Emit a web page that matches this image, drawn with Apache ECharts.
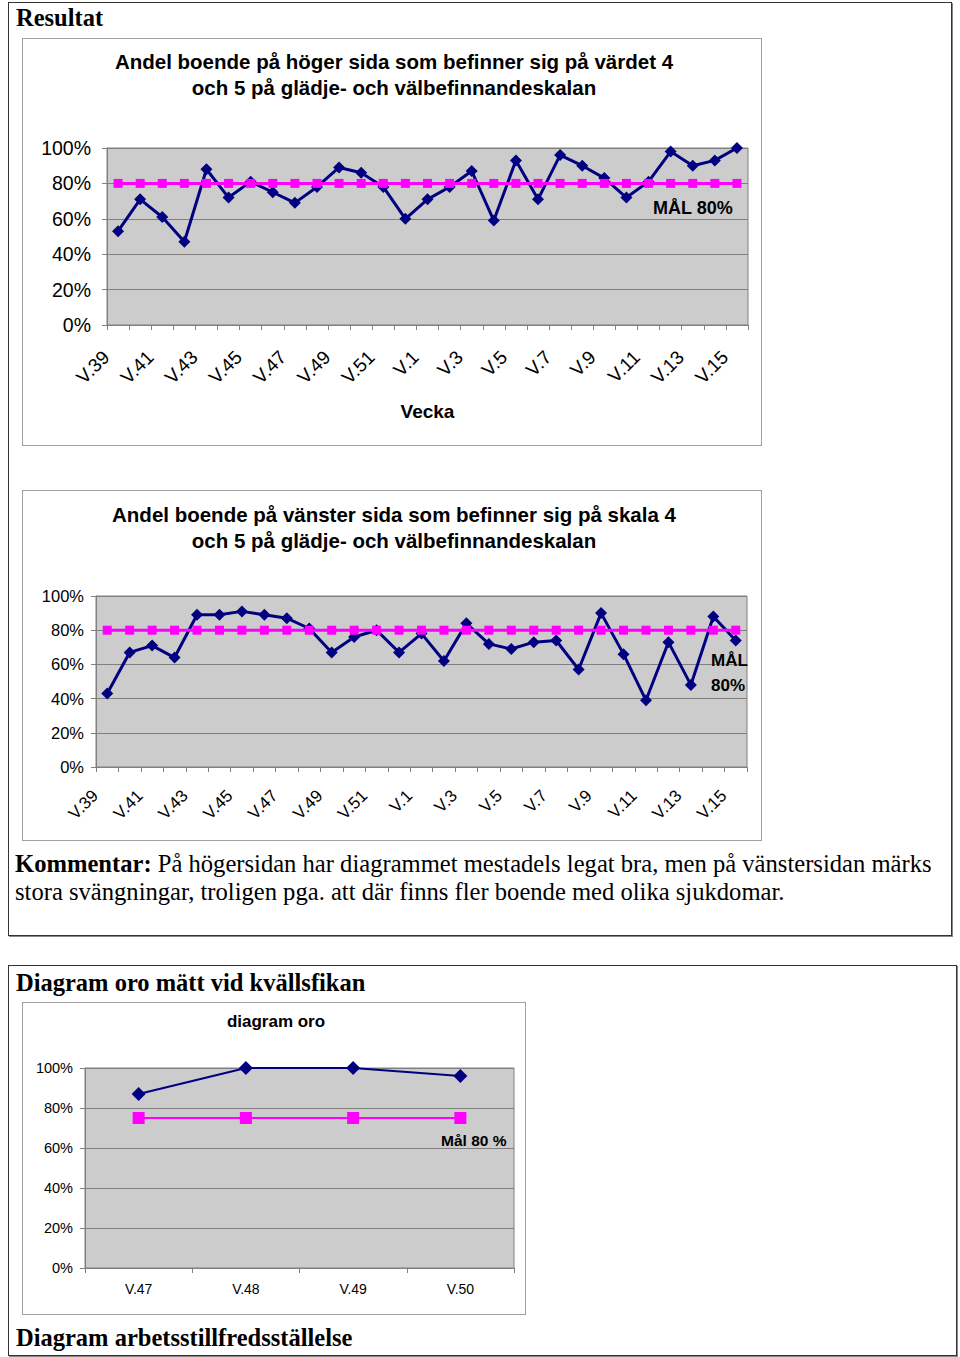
<!DOCTYPE html>
<html>
<head>
<meta charset="utf-8">
<script src="https://cdn.jsdelivr.net/npm/echarts@6/dist/echarts.min.js"></script>
<style>
  html, body { margin: 0; padding: 0; background: #fff; }
  #page { position: relative; width: 960px; height: 1357px; overflow: hidden; }
  .outer { position: absolute; border: 1px solid #333; box-shadow: 1px 1px 0 #888; box-sizing: border-box; }
  .cbox { position: absolute; border: 1px solid #a0a0a0; box-sizing: border-box; }
  .serif { position: absolute; font-family: "Liberation Serif", "Times New Roman", serif; color: #000; white-space: nowrap; }
  #chart { position: absolute; left: 0; top: 0; width: 960px; height: 1357px; }
</style>
</head>
<body>
<div id="page">
  <div class="outer" style="left:8px;top:2px;width:944px;height:934px;"></div>
  <div class="outer" style="left:8px;top:965px;width:949px;height:391px;"></div>
  <div class="cbox" style="left:22px;top:38px;width:740px;height:408px;"></div>
  <div class="cbox" style="left:22px;top:490px;width:740px;height:351px;"></div>
  <div class="cbox" style="left:22px;top:1002px;width:504px;height:313px;"></div>
  <div class="serif" style="left:16px;top:5px;font-size:24.5px;line-height:25px;font-weight:bold;">Resultat</div>
  <div class="serif" style="left:15px;top:850px;font-size:24.6px;line-height:28px;"><b>Kommentar:</b> På högersidan har diagrammet mestadels legat bra, men på vänstersidan märks<br>stora svängningar, troligen pga. att där finns fler boende med olika sjukdomar.</div>
  <div class="serif" style="left:16px;top:970px;font-size:24.5px;line-height:25px;font-weight:bold;">Diagram oro mätt vid kvällsfikan</div>
  <div class="serif" style="left:16px;top:1325px;font-size:24.5px;line-height:25px;font-weight:bold;">Diagram arbetsstillfredsställelse</div>
  <div id="chart"></div>
</div>
<script>
// ---- data ----
const weeks = ['V.39','V.40','V.41','V.42','V.43','V.44','V.45','V.46','V.47','V.48','V.49','V.50','V.51','V.52',
               'V.1','V.2','V.3','V.4','V.5','V.6','V.7','V.8','V.9','V.10','V.11','V.12','V.13','V.14','V.15'];
const hogerSida = [53,71,61,47,88,72,81,75,69,78,89,86,78,60,71,78,87,59,93,71,96,90,83,72,81,98,90,93,100];
const malHoger  = [80,80,80,80,80,80,80,80,80,80,80,80,80,80,80,80,80,80,80,80,80,80,80,80,80,80,80,80,80];
const vansterSida = [43,67,71,64,89,89,91,89,87,81,67,76,80,67,78,62,84,72,69,73,74,57,90,66,39,73,48,88,74];
const malVanster  = [80,80,80,80,80,80,80,80,80,80,80,80,80,80,80,80,80,80,80,80,80,80,80,80,80,80,80,80,80];
const oroWeeks = ['V.47','V.48','V.49','V.50'];
const oro = [87,100,100,96];
const malOro = [75,75,75,75];
const yTicks = { min: 0, max: 100, interval: 20 };

const NAVY = '#000080', MAGENTA = '#FF00FF', PLOT = '#CCCCCC', GRIDC = '#808080';
const SANS = '"Liberation Sans", Arial, sans-serif';

function xAx(gridIndex, data, fs, rotate, margin, interval, padding, extra) {
  return Object.assign({
    gridIndex, type: 'category', data, boundaryGap: true,
    axisLine: { show: true, lineStyle: { color: GRIDC, width: 1 } },
    axisTick: { show: true, inside: false, length: 5, interval: 0, lineStyle: { color: GRIDC } },
    axisLabel: { show: true, interval, rotate, margin, padding, fontSize: fs, color: '#000', fontFamily: SANS },
    splitLine: { show: false }
  }, extra || {});
}
function yAx(gridIndex, fs, margin) {
  return {
    gridIndex, type: 'value', min: yTicks.min, max: yTicks.max, interval: yTicks.interval,
    axisLine: { show: true, lineStyle: { color: GRIDC, width: 1 } },
    axisTick: { show: true, inside: false, length: 5, lineStyle: { color: GRIDC } },
    axisLabel: { formatter: '{value}%', fontSize: fs, color: '#000', fontFamily: SANS, margin },
    splitLine: { show: true, lineStyle: { color: GRIDC, width: 1 } }
  };
}
function lineS(idx, data, color, width, symbol, size, z) {
  return {
    type: 'line', xAxisIndex: idx, yAxisIndex: idx, data, color,
    lineStyle: { color, width }, itemStyle: { color },
    symbol, symbolSize: size, showSymbol: true, animation: false, z,
    emphasis: { disabled: true }
  };
}

const chart = echarts.init(document.getElementById('chart'), null, { renderer: 'svg', width: 960, height: 1357 });
chart.setOption({
  backgroundColor: 'transparent',
  animation: false,
  title: [
    { text: 'Andel boende på höger sida som befinner sig på värdet 4\noch 5 på glädje- och välbefinnandeskalan',
      left: 394, top: 48, textAlign: 'center', padding: 0,
      textStyle: { fontFamily: SANS, fontSize: 20.5, fontWeight: 'bold', lineHeight: 26, color: '#000' } },
    { text: 'Andel boende på vänster sida som befinner sig på skala 4\noch 5 på glädje- och välbefinnandeskalan',
      left: 394, top: 501, textAlign: 'center', padding: 0,
      textStyle: { fontFamily: SANS, fontSize: 20.5, fontWeight: 'bold', lineHeight: 26, color: '#000' } },
    { text: 'diagram oro', left: 276, top: 1013, textAlign: 'center', padding: 0,
      textStyle: { fontFamily: SANS, fontSize: 17, fontWeight: 'bold', color: '#000' } }
  ],
  grid: [
    { left: 107, top: 148, width: 641, height: 177, show: true, backgroundColor: PLOT, borderColor: GRIDC, borderWidth: 1 },
    { left: 96, top: 596, width: 651, height: 171, show: true, backgroundColor: PLOT, borderColor: GRIDC, borderWidth: 1 },
    { left: 85, top: 1068, width: 429, height: 200, show: true, backgroundColor: PLOT, borderColor: GRIDC, borderWidth: 1 }
  ],
  xAxis: [
    xAx(0, weeks, 19, 45, 17, 1, [0, 17, 0, 0], { name: 'Vecka', nameLocation: 'middle', nameGap: 77,
      nameTextStyle: { fontFamily: SANS, fontSize: 19, fontWeight: 'bold', color: '#000' } }),
    xAx(1, weeks, 17, 45, 14, 1, [0, 17, 0, 0]),
    xAx(2, oroWeeks, 14, 0, 14, 0, 0)
  ],
  yAxis: [ yAx(0, 19.5, 16), yAx(1, 16.5, 12), yAx(2, 14.5, 12) ],
  series: [
    lineS(0, hogerSida, NAVY, 3, 'diamond', 12, 3),
    lineS(0, malHoger, MAGENTA, 3, 'rect', 9, 4),
    lineS(1, vansterSida, NAVY, 3, 'diamond', 12, 3),
    lineS(1, malVanster, MAGENTA, 3, 'rect', 9, 4),
    lineS(2, oro, NAVY, 2, 'diamond', 14, 3),
    lineS(2, malOro, MAGENTA, 2, 'rect', 12, 4)
  ],
  graphic: [
    { type: 'text', left: 653, top: 199, z: 10,
      style: { text: 'MÅL 80%', fill: '#000', font: 'bold 18px ' + SANS } },
    { type: 'text', left: 711, top: 648, z: 10,
      style: { text: 'MÅL\n80%', fill: '#000', font: 'bold 17px ' + SANS, lineHeight: 25 } },
    { type: 'text', left: 441, top: 1132, z: 10,
      style: { text: 'Mål 80 %', fill: '#000', font: 'bold 15.5px ' + SANS } }
  ]
});
</script>
</body>
</html>
